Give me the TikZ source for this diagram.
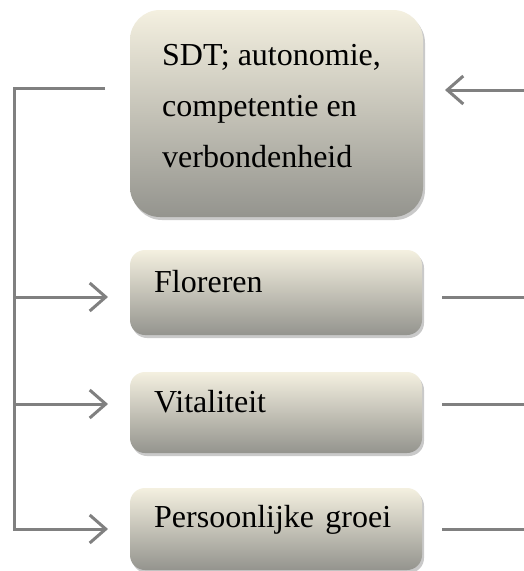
\documentclass[tikz,border=0pt]{standalone}
\usepackage{fontspec}
\setmainfont{Liberation Serif}
\usetikzlibrary{arrows.meta,shadows}
\definecolor{boxtop}{RGB}{244,240,224}
\definecolor{boxbot}{RGB}{148,148,142}
\definecolor{linegray}{RGB}{128,128,128}
\tikzset{
  boxstyle/.style={rounded corners=#1, top color=boxtop, bottom color=boxbot, draw=none,
    drop shadow={shadow xshift=2pt, shadow yshift=-3pt, opacity=0.35, fill=black!60}},
  conn/.style={draw=linegray, line width=3pt},
  arr/.style={conn, -{Straight Barb[length=16pt,width=28pt,line width=3pt]}},
  lbl/.style={anchor=base west, inner sep=0pt, font=\fontsize{32}{50}\selectfont}
}
\begin{document}
\begin{tikzpicture}[x=1pt,y=-1pt]
\useasboundingbox (0,0) rectangle (524,571);
\fill[white] (0,0) rectangle (524,571);
% boxes
\path[boxstyle=30pt] (130,10) rectangle (423,217);
\node[inner sep=0pt, minimum width=293pt, minimum height=207pt] (A) at (276.5,113.5) {};
\path[boxstyle=15pt] (130,250) rectangle (422,335);
\node[inner sep=0pt, minimum width=292pt, minimum height=85pt] (B) at (276,292.5) {};
\path[boxstyle=15pt] (130,372) rectangle (422,453);
\node[inner sep=0pt, minimum width=292pt, minimum height=81pt] (C) at (276,412.5) {};
\path[boxstyle=15pt] (130,488) rectangle (422,570);
\node[inner sep=0pt, minimum width=292pt, minimum height=82pt] (D) at (276,529) {};
% labels
\node[lbl] (t1) at (162,65) {SDT; autonomie,};
\node[lbl] (t2) at (162,116) {competentie en};
\node[lbl] (t3) at (162,167) {verbondenheid};
\node[lbl] (tb) at (154,292) {Floreren};
\node[lbl] (tc) at (154,412) {Vitaliteit};
\node[lbl] (td) at (154,527) {Persoonlijke\hspace{0.1em} groei};
% coordinates
\coordinate (Lstart) at (105,88);
\coordinate (Lcorner) at (14,88);
\coordinate (Lb) at (14,297);
\coordinate (Lc) at (14,404);
\coordinate (Ld) at (14,529);
\coordinate (Bin) at (108,297);
\coordinate (Cin) at (108,404);
\coordinate (Din) at (108,529);
\coordinate (Rin) at (445,90);
\coordinate (Rstart) at (524,90);
\coordinate (Bout) at (442,297);
\coordinate (Cout) at (442,404);
\coordinate (Dout) at (442,529);
\coordinate (Bend) at (524,297);
\coordinate (Cend) at (524,404);
\coordinate (Dend) at (524,529);
% connectors
\draw[arr] (Lstart) -- (Lcorner) -- (Ld) -- (Din);
\draw[arr] (Lb) -- (Bin);
\draw[arr] (Lc) -- (Cin);
\draw[arr] (Rstart) -- (Rin);
\draw[conn] (Bout) -- (Bend);
\draw[conn] (Cout) -- (Cend);
\draw[conn] (Dout) -- (Dend);
\end{tikzpicture}
\end{document}
